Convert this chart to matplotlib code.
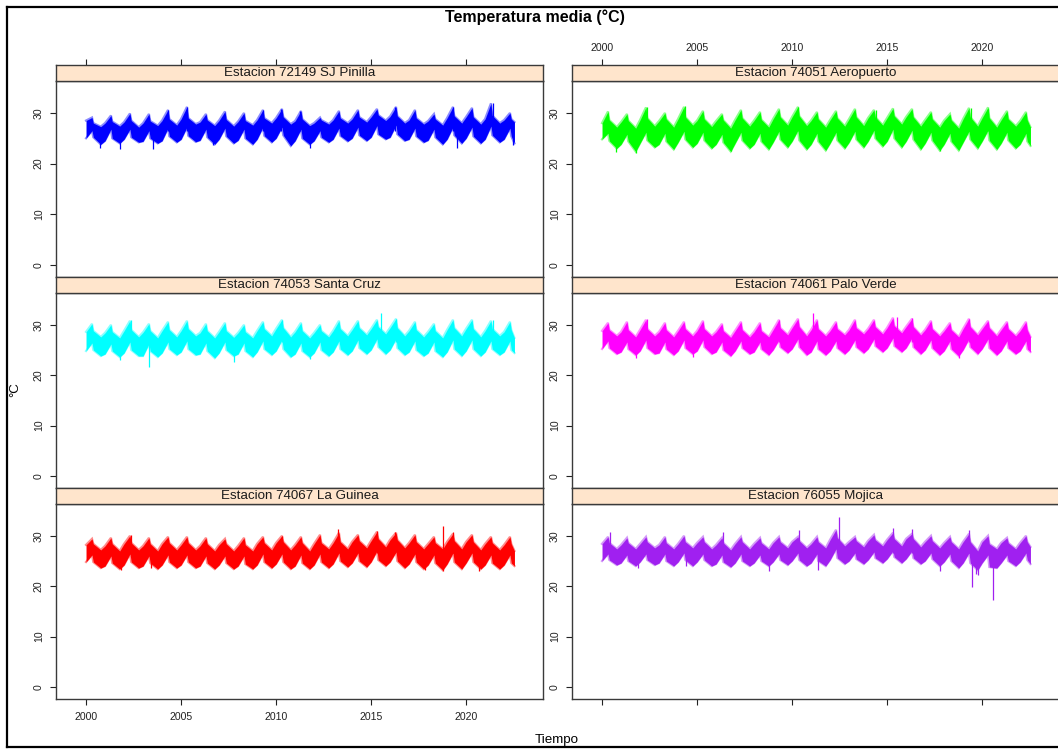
import matplotlib
matplotlib.use("Agg")
import matplotlib.pyplot as plt
import numpy as np
import pandas as pd
from matplotlib.lines import Line2D

plt.rcParams['font.family'] = ['Liberation Sans', 'DejaVu Sans']

# ---------------- data ----------------
years = list(range(2000, 2023))
sample_md = ["01-01", "04-25", "05-20", "10-10"]   # seasonal sample dates
last_date = "2022-07-20"

stations = ["Estacion 72149 SJ Pinilla", "Estacion 74051 Aeropuerto",
            "Estacion 74053 Santa Cruz", "Estacion 74061 Palo Verde",
            "Estacion 74067 La Guinea", "Estacion 76055 Mojica"]
colors = ["#0000FF", "#00FF00", "#00FFFF", "#FF00FF", "#FF0000", "#A020F0"]

# upper / lower envelopes of the daily series at the sample dates
sjp_hi = [28.5, 29.1, 28.0, 27.3, 28.0, 29.5, 28.3, 27.4, 28.2, 29.9, 28.5, 27.2,
          28.0, 29.8, 28.4, 27.5, 28.5, 30.6, 28.8, 27.6, 28.8, 31.2, 29.0, 27.8,
          28.2, 29.8, 28.6, 27.5, 28.5, 30.3, 28.7, 27.4, 28.3, 30.0, 28.5, 27.6,
          28.6, 30.6, 29.0, 28.0, 29.0, 30.8, 29.2, 27.8, 28.4, 30.4, 28.8, 27.5,
          28.0, 29.1, 28.6, 27.8, 28.6, 30.4, 29.0, 28.0, 28.8, 30.6, 29.2, 28.2,
          29.2, 30.8, 29.6, 28.5, 29.3, 31.2, 29.4, 28.0, 28.6, 30.6, 29.0, 27.8,
          28.4, 29.8, 28.8, 27.6, 29.0, 31.2, 29.4, 28.0, 29.2, 31.0, 29.2, 27.8,
          28.8, 31.9, 29.5, 28.0, 28.6, 30.0, 28.8, 28.2]
sjp_lo = [25.0, 26.5, 25.2, 23.8, 24.5, 26.8, 25.0, 24.0, 24.8, 26.8, 25.2, 24.2,
          24.4, 26.5, 25.0, 24.0, 24.5, 27.0, 25.4, 24.2, 24.8, 27.2, 25.5, 24.3,
          24.6, 26.8, 25.2, 23.8, 24.8, 27.0, 25.4, 24.0, 24.6, 26.8, 25.0, 23.8,
          24.8, 27.2, 25.5, 24.2, 25.0, 27.2, 25.6, 23.5, 24.5, 26.8, 25.0, 23.8,
          24.5, 26.5, 25.2, 24.2, 24.8, 27.0, 25.5, 24.4, 25.0, 27.2, 25.6, 24.5,
          25.2, 27.5, 25.8, 24.8, 25.2, 27.6, 25.8, 24.5, 24.8, 27.0, 25.4, 24.2,
          24.6, 26.8, 25.2, 23.8, 24.8, 27.2, 25.6, 24.0, 25.0, 27.2, 25.4, 24.0,
          24.8, 27.4, 25.6, 24.2, 24.8, 27.0, 25.4, 24.0]

aer_hi = [28.0, 30.3, 28.6, 27.2, 28.2, 29.8, 28.5, 27.0, 28.6, 31.1, 29.0, 27.4,
          28.4, 30.0, 28.8, 27.2, 28.8, 31.2, 29.2, 27.6, 28.5, 30.4, 28.8, 27.3,
          28.4, 29.8, 28.6, 27.0, 28.6, 30.6, 29.0, 27.4, 28.5, 30.2, 28.7, 27.2,
          28.8, 30.8, 29.2, 27.6, 29.2, 31.2, 29.4, 27.5, 28.5, 30.2, 28.8, 27.2,
          28.6, 30.4, 29.0, 27.4, 28.8, 30.8, 29.2, 27.5, 29.0, 30.6, 29.2, 27.6,
          29.0, 30.9, 29.4, 27.8, 29.2, 30.8, 29.2, 27.4, 28.6, 30.2, 28.8, 27.2,
          28.5, 29.8, 28.6, 27.0, 28.8, 31.0, 29.2, 27.4, 29.0, 31.1, 29.0, 27.2,
          28.6, 30.4, 28.8, 27.4, 28.4, 30.2, 28.6, 27.2]
aer_lo = [24.8, 26.0, 24.5, 23.0, 23.8, 25.8, 24.4, 22.4, 24.0, 26.2, 24.6, 23.2,
          23.8, 26.0, 24.4, 22.8, 24.2, 26.4, 24.8, 23.2, 24.0, 26.2, 24.6, 23.0,
          23.8, 25.8, 24.2, 22.4, 24.0, 26.2, 24.6, 23.0, 23.8, 26.0, 24.4, 22.8,
          24.2, 26.4, 24.8, 23.2, 24.4, 26.6, 24.6, 22.8, 23.8, 26.0, 24.4, 22.6,
          24.0, 26.2, 24.6, 23.0, 24.2, 26.4, 24.8, 23.2, 24.4, 26.6, 25.0, 23.4,
          24.4, 26.8, 25.0, 23.2, 24.4, 26.6, 24.8, 22.8, 24.0, 26.2, 24.6, 22.6,
          23.8, 26.0, 24.4, 22.6, 24.2, 26.4, 24.8, 23.0, 24.4, 26.6, 24.6, 22.8,
          24.0, 26.2, 24.6, 23.0, 23.8, 26.0, 24.4, 23.5]

scz_hi = [28.6, 30.2, 28.8, 27.6, 28.4, 30.0, 28.6, 27.4, 28.8, 30.8, 29.0, 27.6,
          28.5, 30.2, 28.8, 27.4, 28.8, 30.6, 29.0, 27.6, 28.8, 30.8, 29.2, 27.8,
          28.4, 30.2, 28.8, 27.4, 28.6, 30.4, 28.8, 27.5, 28.4, 30.0, 28.6, 27.4,
          28.8, 30.6, 29.2, 27.8, 29.2, 31.0, 29.4, 27.6, 28.6, 30.4, 28.8, 27.4,
          28.4, 30.0, 28.8, 27.6, 28.8, 30.8, 29.2, 27.8, 29.0, 30.8, 29.4, 28.0,
          29.2, 31.0, 29.6, 28.2, 29.4, 31.2, 29.4, 27.8, 28.8, 30.6, 29.0, 27.6,
          28.6, 30.2, 28.8, 27.4, 29.0, 31.0, 29.4, 27.8, 29.2, 31.0, 29.2, 27.6,
          28.8, 30.8, 29.2, 27.8, 28.6, 30.6, 29.0, 27.4]
scz_lo = [24.8, 26.4, 25.0, 23.8, 24.2, 26.2, 24.8, 23.6, 24.4, 26.6, 25.0, 23.8,
          23.8, 26.2, 24.8, 23.6, 24.4, 26.6, 25.2, 24.0, 24.6, 26.8, 25.2, 24.0,
          24.2, 26.4, 24.8, 23.4, 24.4, 26.6, 25.0, 23.8, 24.2, 26.4, 24.8, 23.6,
          24.6, 26.8, 25.2, 24.0, 24.8, 27.0, 25.2, 23.6, 24.2, 26.4, 24.8, 23.6,
          24.4, 26.6, 25.0, 23.8, 24.6, 26.8, 25.2, 24.0, 24.8, 27.0, 25.4, 24.2,
          25.0, 27.2, 25.6, 24.2, 25.0, 27.2, 25.4, 24.0, 24.6, 26.8, 25.0, 23.8,
          24.4, 26.6, 24.8, 23.6, 24.6, 27.0, 25.2, 23.8, 24.8, 27.0, 25.2, 23.8,
          24.6, 26.8, 25.2, 24.0, 24.6, 26.8, 25.0, 24.4]

pv_hi = [28.8, 30.4, 29.0, 27.8, 28.6, 30.6, 29.0, 27.6, 29.0, 31.0, 29.2, 27.8,
         28.6, 30.4, 29.0, 27.6, 28.8, 30.6, 29.2, 27.8, 28.8, 30.8, 29.2, 27.8,
         28.6, 30.2, 28.8, 27.5, 28.8, 30.6, 29.0, 27.6, 28.6, 30.4, 28.8, 27.6,
         29.0, 31.0, 29.4, 28.0, 29.4, 31.2, 29.6, 27.8, 29.0, 31.0, 29.2, 27.8,
         28.8, 30.6, 29.2, 28.0, 29.0, 31.0, 29.4, 28.2, 29.2, 31.0, 29.6, 28.2,
         29.4, 31.4, 29.8, 28.4, 29.6, 31.2, 29.6, 28.0, 29.0, 30.8, 29.2, 27.8,
         28.8, 30.4, 29.0, 27.6, 29.2, 31.2, 29.6, 28.0, 29.2, 30.8, 29.4, 27.8,
         29.0, 30.6, 29.2, 27.8, 28.8, 30.6, 29.0, 27.6]
pv_lo = [25.2, 26.8, 25.4, 24.2, 24.6, 26.6, 25.2, 24.0, 24.8, 27.0, 25.4, 24.2,
         24.4, 26.6, 25.2, 24.0, 24.8, 27.0, 25.4, 24.2, 24.8, 27.0, 25.6, 24.2,
         24.6, 26.6, 25.0, 23.8, 24.8, 26.8, 25.4, 24.2, 24.6, 26.6, 25.2, 24.0,
         25.0, 27.0, 25.6, 24.4, 25.2, 27.2, 25.6, 24.0, 24.6, 26.8, 25.2, 24.0,
         24.8, 26.8, 25.4, 24.2, 25.0, 27.0, 25.6, 24.4, 25.2, 27.2, 25.8, 24.6,
         25.4, 27.4, 25.8, 24.6, 25.4, 27.4, 25.6, 24.2, 25.0, 27.0, 25.4, 24.0,
         24.8, 26.8, 25.2, 23.8, 25.0, 27.2, 25.6, 24.2, 25.2, 27.2, 25.4, 24.0,
         24.8, 26.8, 25.4, 24.2, 24.8, 26.8, 25.2, 24.6]

lg_hi = [28.2, 29.4, 28.4, 27.2, 28.0, 29.6, 28.4, 27.0, 28.4, 30.0, 28.6, 27.2,
         28.0, 29.6, 28.4, 27.0, 28.4, 29.8, 28.6, 27.2, 28.2, 29.8, 28.6, 27.2,
         28.0, 29.6, 28.4, 27.0, 28.2, 29.4, 28.4, 27.0, 28.0, 29.6, 28.2, 27.0,
         28.4, 29.8, 28.6, 27.2, 28.6, 30.0, 28.8, 27.2, 28.2, 29.8, 28.6, 27.0,
         28.4, 30.2, 28.6, 27.4, 28.6, 30.6, 28.8, 27.4, 28.8, 30.2, 29.0, 27.6,
         29.0, 30.8, 29.4, 27.8, 29.2, 30.6, 29.2, 27.6, 28.6, 30.2, 28.8, 27.4,
         28.4, 29.8, 28.6, 27.4, 28.8, 30.4, 29.0, 27.4, 28.8, 30.2, 28.8, 27.2,
         28.4, 29.8, 28.6, 27.2, 28.2, 29.8, 28.4, 27.0]
lg_lo = [24.8, 26.2, 24.8, 23.6, 24.0, 26.0, 24.6, 23.4, 24.2, 26.4, 24.8, 23.6,
         24.0, 26.0, 24.6, 23.4, 24.2, 26.2, 24.8, 23.6, 24.2, 26.2, 24.8, 23.6,
         24.0, 26.0, 24.6, 23.4, 24.2, 26.0, 24.6, 23.4, 24.0, 26.0, 24.4, 23.4,
         24.2, 26.4, 24.8, 23.6, 24.4, 26.4, 24.8, 23.4, 24.0, 26.2, 24.6, 23.4,
         24.2, 26.4, 24.8, 23.6, 24.4, 26.6, 25.0, 23.8, 24.6, 26.6, 25.0, 23.8,
         24.8, 27.0, 25.2, 24.0, 24.8, 26.8, 25.0, 23.6, 24.4, 26.4, 24.8, 23.4,
         24.2, 26.2, 24.6, 23.2, 24.4, 26.6, 24.8, 23.4, 24.6, 26.6, 24.8, 23.4,
         24.2, 26.2, 24.6, 23.4, 24.2, 26.2, 24.6, 24.0]

moj_hi = [28.4, 29.8, 28.6, 27.4, 28.2, 29.6, 28.6, 27.4, 28.4, 29.8, 28.8, 27.6,
          28.2, 29.8, 28.6, 27.4, 28.4, 30.0, 28.8, 27.6, 28.6, 29.8, 28.8, 27.4,
          28.2, 29.6, 28.6, 27.2, 28.4, 29.8, 28.8, 27.4, 28.4, 29.6, 28.6, 27.4,
          28.6, 29.8, 28.8, 27.6, 28.8, 29.8, 29.0, 27.6, 28.4, 29.8, 28.8, 27.6,
          29.2, 31.2, 29.6, 28.0, 28.8, 29.8, 29.0, 27.8, 29.0, 30.2, 29.2, 28.0,
          29.2, 30.6, 29.4, 28.0, 29.4, 30.4, 29.4, 27.8, 28.8, 30.0, 29.0, 27.6,
          28.6, 29.8, 28.8, 27.4, 28.8, 30.4, 28.8, 27.0, 28.8, 30.0, 28.4, 27.4,
          28.6, 29.6, 28.6, 27.4, 28.6, 30.0, 28.8, 27.8]
moj_lo = [25.0, 26.4, 25.2, 24.2, 24.6, 26.2, 25.0, 24.0, 24.8, 26.4, 25.2, 24.2,
          24.6, 26.4, 25.0, 24.0, 24.8, 26.6, 25.2, 24.0, 24.8, 26.4, 25.2, 24.0,
          24.4, 26.2, 24.8, 23.8, 24.6, 26.4, 25.0, 24.0, 24.6, 26.2, 25.0, 24.0,
          24.8, 26.4, 25.2, 24.2, 25.0, 26.6, 25.2, 24.0, 24.6, 26.4, 25.0, 24.0,
          25.2, 27.4, 25.6, 24.4, 25.0, 26.6, 25.4, 24.4, 25.2, 26.8, 25.6, 24.6,
          25.4, 27.0, 25.8, 24.6, 25.4, 27.0, 25.6, 24.4, 25.0, 26.6, 25.4, 24.0,
          24.8, 26.4, 25.0, 23.6, 24.6, 26.6, 24.6, 23.2, 24.6, 26.2, 23.8, 23.6,
          24.6, 26.2, 25.0, 24.0, 24.8, 26.6, 25.2, 24.4]

# isolated daily extremes (decimal year, value)
sjp_spk_t = [2000.74, 2001.8, 2003.5, 2004.33, 2005.3, 2006.7, 2009.3, 2010.26,
             2011.26, 2011.8, 2016.26, 2019.3, 2019.5, 2021.44, 2022.47]
sjp_spk_v = [23.0, 22.9, 22.9, 30.6, 31.2, 23.6, 30.6, 30.8,
             30.4, 23.0, 31.2, 31.2, 23.0, 31.9, 23.7]
aer_spk_t = [2000.74, 2001.8, 2002.35, 2004.35, 2006.8, 2010.3, 2014.4,
             2017.8, 2019.4, 2020.3]
aer_spk_v = [22.2, 22.1, 31.1, 31.4, 22.5, 31.1, 30.6,
             22.4, 30.9, 30.8]
scz_spk_t = [2003.3, 2007.8, 2002.35, 2010.3, 2015.5, 2016.3, 2021.4, 2001.8,
             2011.8]
scz_spk_v = [21.6, 22.6, 30.9, 31.0, 32.3, 31.2, 31.0, 23.0,
             23.2]
pv_spk_t = [2011.1, 2015.5, 2002.35, 2009.3, 2016.3, 2019.3, 2001.8, 2004.8,
            2018.8]
pv_spk_v = [32.3, 31.6, 31.2, 31.0, 31.4, 31.2, 23.5, 23.6,
            23.4]
lg_spk_t = [2002.35, 2010.3, 2013.28, 2015.3, 2016.26, 2019.3, 2018.77,
            2001.83, 2003.4, 2011.8, 2017.84, 2018.8, 2020.7]
lg_spk_v = [30.2, 30.0, 31.3, 30.9, 30.7, 30.7, 32.0,
            23.2, 23.6, 23.9, 23.2, 23.0, 23.0]
moj_spk_t = [2012.47, 2019.46, 2020.58, 2011.35, 2019.7, 2000.4, 2006.35,
             2010.35, 2015.3, 2016.3, 2019.3, 2001.9, 2004.4, 2008.8, 2017.8,
             2019.8]
moj_spk_v = [33.8, 19.8, 17.2, 23.3, 22.5, 30.7, 30.7,
             31.2, 31.6, 31.4, 31.2, 23.6, 24.1, 23.1, 23.0,
             22.2]

his = [sjp_hi, aer_hi, scz_hi, pv_hi, lg_hi, moj_hi]
los = [sjp_lo, aer_lo, scz_lo, pv_lo, lg_lo, moj_lo]
spk_t = [sjp_spk_t, aer_spk_t, scz_spk_t, pv_spk_t, lg_spk_t, moj_spk_t]
spk_v = [sjp_spk_v, aer_spk_v, scz_spk_v, pv_spk_v, lg_spk_v, moj_spk_v]

xticks = [2000, 2005, 2010, 2015, 2020]
yticks = [0, 10, 20, 30]

# ---------------- time axis ----------------
dates = [pd.Timestamp(f"{y}-{md}") for y in years for md in sample_md]
dates[-1] = pd.Timestamp(last_date)
tx = np.array([d.year + (d.dayofyear - 1) / 365.25 for d in dates])

# ---------------- figure ----------------
W, H = 1058, 749
fig = plt.figure(figsize=(W / 100, H / 100), dpi=100)


def rect(x0, y0, x1, y1):
    return [x0 / W, 1 - y1 / H, (x1 - x0) / W, (y1 - y0) / H]


cols = [(56, 543), (572, 1059)]
rows = [(65, 81, 277), (277, 293, 488), (488, 504, 699)]
frame_col = "#3a3a3a"
xlim = (1998.42, 2024.05)
ylim = (-2.37, 36.3)
tick_len = 4.3

for i in range(6):
    r, c = divmod(i, 2)
    x0, x1 = cols[c]
    s0, p0, p1 = rows[r]
    ax = fig.add_axes(rect(x0, p0, x1, p1))
    sax = fig.add_axes(rect(x0, s0, x1, p0))
    col = colors[i]
    ax.fill_between(tx, los[i], his[i], color=col, lw=0)
    ax.plot(tx, his[i], color=col, lw=1.6, alpha=0.45, solid_joinstyle='miter')
    ax.plot(tx, los[i], color=col, lw=1.6, alpha=0.45, solid_joinstyle='miter')
    ax.vlines(spk_t[i], 26.5, spk_v[i], color=col, lw=0.9)
    ax.set_xlim(*xlim)
    ax.set_ylim(*ylim)
    ax.set_yticks(yticks)
    ax.set_yticklabels([str(v) for v in yticks], rotation=90, va='center')
    ax.tick_params(axis='y', direction='out', length=tick_len, width=0.8,
                   labelsize=7.6, pad=4.5, colors='#222222')
    ax.set_xticks(xticks)
    if r == 2:
        ax.tick_params(axis='x', direction='out', length=tick_len, width=0.8,
                       labelsize=7.6, pad=5, colors='#222222',
                       bottom=True, top=False, labelbottom=(c == 0))
    else:
        ax.tick_params(axis='x', bottom=False, top=False, labelbottom=False)
    for sp in ax.spines.values():
        sp.set_color(frame_col)
        sp.set_linewidth(1.0)

    # strip
    sax.set_facecolor("#FFE5CC")
    sax.set_xlim(*xlim)
    sax.set_ylim(0, 1)
    sax.set_yticks([])
    sax.set_xticks(xticks)
    if r == 0:
        sax.tick_params(axis='x', direction='out', length=tick_len, width=0.8,
                        labelsize=7.6, pad=4.5, colors='#222222',
                        top=True, bottom=False, labeltop=(c == 1),
                        labelbottom=False)
    else:
        sax.tick_params(axis='x', top=False, bottom=False, labelbottom=False)
    for sp in sax.spines.values():
        sp.set_color(frame_col)
        sp.set_linewidth(1.0)
    sax.text((x0 + 243.5) / W, 1 - (s0 + p0) / 2 / H, stations[i],
             transform=fig.transFigure, ha='center', va='center',
             fontsize=9.6, color='#1a1a1a')

fig.text(535 / W, 1 - 17 / H, "Temperatura media (°C)", ha='center',
         va='center', fontsize=11.5, fontweight='bold')
fig.text(15 / W, 1 - 390 / H, "°C", ha='center', va='center', rotation=90,
         fontsize=9.6)
fig.text(557 / W, 1 - 740 / H, "Tiempo", ha='center', va='center',
         fontsize=9.6)

# outer frame of the screenshot
lw = 1.6
fig.add_artist(Line2D([7 / W, 7 / W], [1 - 7 / H, 1 - 747 / H], color='black', lw=lw))
fig.add_artist(Line2D([7 / W, 1], [1 - 7 / H, 1 - 7 / H], color='black', lw=lw))
fig.add_artist(Line2D([7 / W, 1], [1 - 747 / H, 1 - 747 / H], color='black', lw=lw))

fig.savefig("out.png", dpi=100)
